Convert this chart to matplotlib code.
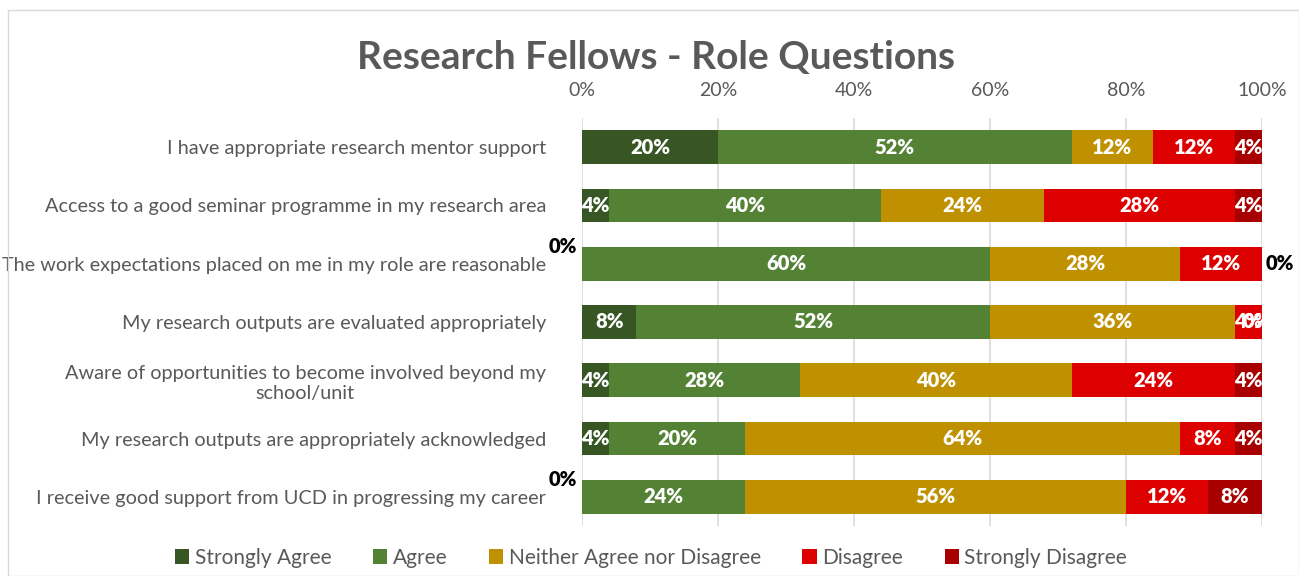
import matplotlib
matplotlib.use("Agg")
import matplotlib.pyplot as plt
from matplotlib.patches import Rectangle

plt.rcParams['font.family'] = ['Lato', 'DejaVu Sans']

questions = [
    "I have appropriate research mentor support",
    "Access to a good seminar programme in my research area",
    "The work expectations placed on me in my role are reasonable",
    "My research outputs are evaluated appropriately",
    "Aware of opportunities to become involved beyond my\nschool/unit",
    "My research outputs are appropriately acknowledged",
    "I receive good support from UCD in progressing my career",
]
series_names = ["Strongly Agree", "Agree", "Neither Agree nor Disagree",
                "Disagree", "Strongly Disagree"]
strongly_agree = [20, 4, 0, 8, 4, 4, 0]
agree = [52, 40, 60, 52, 28, 20, 24]
neither = [12, 24, 28, 36, 40, 64, 56]
disagree = [12, 28, 12, 4, 24, 8, 12]
strongly_disagree = [4, 4, 0, 0, 4, 4, 8]
tick_values = [0, 20, 40, 60, 80, 100]

colors = ["#375623", "#548235", "#BF9000", "#DD0000", "#A80000"]
series = [strongly_agree, agree, neither, disagree, strongly_disagree]

value_font = dict(family=["Lato", "DejaVu Sans"], fontsize=14.5,
                  fontweight="heavy")

fig = plt.figure(figsize=(12.99, 5.76), dpi=100)
ax = fig.add_axes([582 / 1299, 1 - 526 / 576, 680 / 1299, 408 / 576])

n = len(questions)
ys = list(range(n))
left = [0.0] * n
for name, vals, col in zip(series_names, series, colors):
    ax.barh(ys, vals, left=left, height=0.58, color=col, label=name,
            zorder=3)
    for i, (v, l) in enumerate(zip(vals, left)):
        if v == 0:
            continue
        ax.text(l + v / 2, i, f"{v}%", ha="center", va="center",
                color="white", zorder=4, **value_font)
    left = [a + b for a, b in zip(left, vals)]

# zero-value labels drawn beside the bars
for i in range(n):
    if strongly_agree[i] == 0:
        ax.text(-0.7, i - 0.3, "0%", ha="right", va="center", color="black",
                zorder=4, **value_font)
    if strongly_disagree[i] == 0 and i == 2:
        ax.text(100.6, i, "0%", ha="left", va="center", color="black",
                zorder=4, clip_on=False, **value_font)
    if strongly_disagree[i] == 0 and i == 3:
        ax.text(99.3, i, "0%", ha="center", va="center", color="white",
                zorder=4, **value_font)

ax.set_xlim(0, 100)
ax.set_ylim(n - 0.5, -0.5)
ax.set_xticks(tick_values)
ax.set_xticklabels([f"{t}%" for t in tick_values])
ax.xaxis.tick_top()
ax.tick_params(axis="x", length=0, pad=14, labelsize=14, labelcolor="#595959")
ax.set_yticks(ys)
ax.set_yticklabels(questions, fontsize=14.3, color="#595959")
for lbl in ax.get_yticklabels():
    lbl.set_multialignment("center")
ax.tick_params(axis="y", length=0, pad=26)
ax.grid(axis="x", color="#D9D9D9", linewidth=1.2, zorder=0)
for s in ax.spines.values():
    s.set_visible(False)

fig.text(656 / 1299, 1 - 58 / 576, "Research Fellows - Role Questions",
         ha="center", va="center", fontsize=28, fontweight="bold",
         color="#595959")

leg = fig.legend(loc="center", bbox_to_anchor=(651 / 1299, 1 - 558 / 576),
                 ncol=5, frameon=False, fontsize=15, handlelength=0.7,
                 handleheight=0.7, handletextpad=0.25, columnspacing=2.0)
for t in leg.get_texts():
    t.set_color("#595959")

fig.patches.append(Rectangle((8 / 1299, 0), 1 - 8 / 1299, 1 - 10 / 576,
                             transform=fig.transFigure, fill=False,
                             edgecolor="#D9D9D9", linewidth=1))

fig.savefig("out.png", dpi=100)
